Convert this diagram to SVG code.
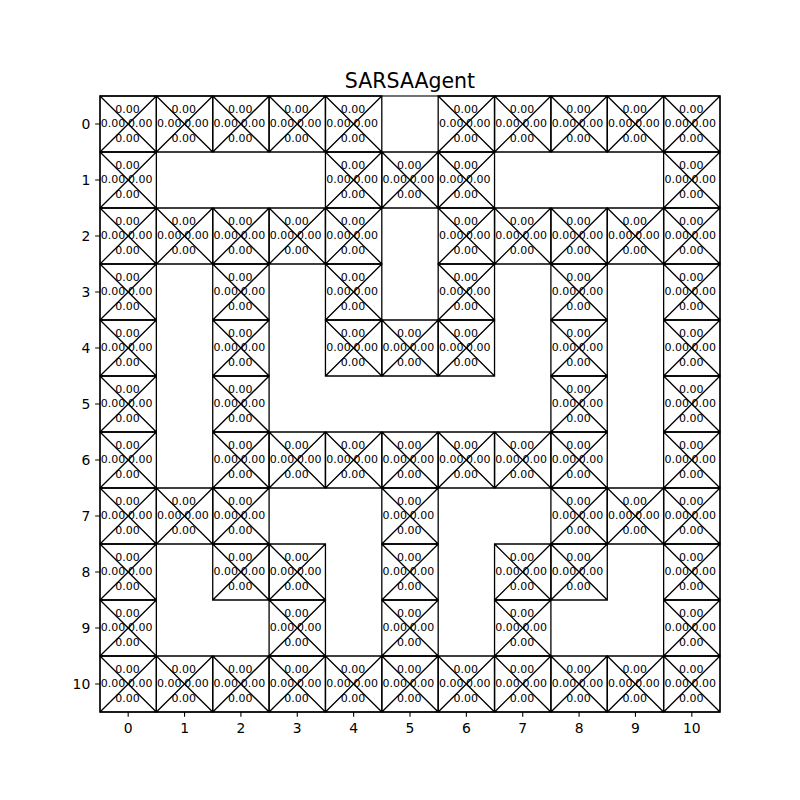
<svg xmlns="http://www.w3.org/2000/svg" xmlns:xlink="http://www.w3.org/1999/xlink" width="800" height="800" viewBox="0 0 800 800">
<style>
.cell path, .cell use{stroke:#000;stroke-width:1.3;fill:none}
.cell text{font-family:"DejaVu Sans","Liberation Sans",sans-serif;font-size:11px;text-anchor:middle;fill:#000}
.tick{stroke:#000;stroke-width:1.1;fill:none}
.tl{font-family:"DejaVu Sans","Liberation Sans",sans-serif;font-size:13.9px;fill:#000}
.title{font-family:"DejaVu Sans","Liberation Sans",sans-serif;font-size:20.5px;text-anchor:middle;fill:#000}
</style>
<defs>
<path id="x" d="M0 0H56.36V56H0ZM0 0L56.36 56M56.36 0L0 56"/>
</defs>
<rect width="800" height="800" fill="#fff"/>
<g id="cells" class="cell">
<g id="s0-0" transform="translate(100 96)"><use href="#x"/><text x="27.5" y="16.7">0.00</text><text x="13" y="31.2">0.00</text><text x="40.2" y="31.2">0.00</text><text x="27.5" y="45.5">0.00</text></g>
<g id="s0-1" transform="translate(156.36 96)"><use href="#x"/><text x="27.5" y="16.7">0.00</text><text x="13" y="31.2">0.00</text><text x="40.2" y="31.2">0.00</text><text x="27.5" y="45.5">0.00</text></g>
<g id="s0-2" transform="translate(212.73 96)"><use href="#x"/><text x="27.5" y="16.7">0.00</text><text x="13" y="31.2">0.00</text><text x="40.2" y="31.2">0.00</text><text x="27.5" y="45.5">0.00</text></g>
<g id="s0-3" transform="translate(269.09 96)"><use href="#x"/><text x="27.5" y="16.7">0.00</text><text x="13" y="31.2">0.00</text><text x="40.2" y="31.2">0.00</text><text x="27.5" y="45.5">0.00</text></g>
<g id="s0-4" transform="translate(325.45 96)"><use href="#x"/><text x="27.5" y="16.7">0.00</text><text x="13" y="31.2">0.00</text><text x="40.2" y="31.2">0.00</text><text x="27.5" y="45.5">0.00</text></g>
<g id="s0-6" transform="translate(438.18 96)"><use href="#x"/><text x="27.5" y="16.7">0.00</text><text x="13" y="31.2">0.00</text><text x="40.2" y="31.2">0.00</text><text x="27.5" y="45.5">0.00</text></g>
<g id="s0-7" transform="translate(494.55 96)"><use href="#x"/><text x="27.5" y="16.7">0.00</text><text x="13" y="31.2">0.00</text><text x="40.2" y="31.2">0.00</text><text x="27.5" y="45.5">0.00</text></g>
<g id="s0-8" transform="translate(550.91 96)"><use href="#x"/><text x="27.5" y="16.7">0.00</text><text x="13" y="31.2">0.00</text><text x="40.2" y="31.2">0.00</text><text x="27.5" y="45.5">0.00</text></g>
<g id="s0-9" transform="translate(607.27 96)"><use href="#x"/><text x="27.5" y="16.7">0.00</text><text x="13" y="31.2">0.00</text><text x="40.2" y="31.2">0.00</text><text x="27.5" y="45.5">0.00</text></g>
<g id="s0-10" transform="translate(663.64 96)"><use href="#x"/><text x="27.5" y="16.7">0.00</text><text x="13" y="31.2">0.00</text><text x="40.2" y="31.2">0.00</text><text x="27.5" y="45.5">0.00</text></g>

<g id="s1-0" transform="translate(100 152)"><use href="#x"/><text x="27.5" y="16.7">0.00</text><text x="13" y="31.2">0.00</text><text x="40.2" y="31.2">0.00</text><text x="27.5" y="45.5">0.00</text></g>
<g id="s1-4" transform="translate(325.45 152)"><use href="#x"/><text x="27.5" y="16.7">0.00</text><text x="13" y="31.2">0.00</text><text x="40.2" y="31.2">0.00</text><text x="27.5" y="45.5">0.00</text></g>
<g id="s1-5" transform="translate(381.82 152)"><use href="#x"/><text x="27.5" y="16.7">0.00</text><text x="13" y="31.2">0.00</text><text x="40.2" y="31.2">0.00</text><text x="27.5" y="45.5">0.00</text></g>
<g id="s1-6" transform="translate(438.18 152)"><use href="#x"/><text x="27.5" y="16.7">0.00</text><text x="13" y="31.2">0.00</text><text x="40.2" y="31.2">0.00</text><text x="27.5" y="45.5">0.00</text></g>
<g id="s1-10" transform="translate(663.64 152)"><use href="#x"/><text x="27.5" y="16.7">0.00</text><text x="13" y="31.2">0.00</text><text x="40.2" y="31.2">0.00</text><text x="27.5" y="45.5">0.00</text></g>

<g id="s2-0" transform="translate(100 208)"><use href="#x"/><text x="27.5" y="16.7">0.00</text><text x="13" y="31.2">0.00</text><text x="40.2" y="31.2">0.00</text><text x="27.5" y="45.5">0.00</text></g>
<g id="s2-1" transform="translate(156.36 208)"><use href="#x"/><text x="27.5" y="16.7">0.00</text><text x="13" y="31.2">0.00</text><text x="40.2" y="31.2">0.00</text><text x="27.5" y="45.5">0.00</text></g>
<g id="s2-2" transform="translate(212.73 208)"><use href="#x"/><text x="27.5" y="16.7">0.00</text><text x="13" y="31.2">0.00</text><text x="40.2" y="31.2">0.00</text><text x="27.5" y="45.5">0.00</text></g>
<g id="s2-3" transform="translate(269.09 208)"><use href="#x"/><text x="27.5" y="16.7">0.00</text><text x="13" y="31.2">0.00</text><text x="40.2" y="31.2">0.00</text><text x="27.5" y="45.5">0.00</text></g>
<g id="s2-4" transform="translate(325.45 208)"><use href="#x"/><text x="27.5" y="16.7">0.00</text><text x="13" y="31.2">0.00</text><text x="40.2" y="31.2">0.00</text><text x="27.5" y="45.5">0.00</text></g>
<g id="s2-6" transform="translate(438.18 208)"><use href="#x"/><text x="27.5" y="16.7">0.00</text><text x="13" y="31.2">0.00</text><text x="40.2" y="31.2">0.00</text><text x="27.5" y="45.5">0.00</text></g>
<g id="s2-7" transform="translate(494.55 208)"><use href="#x"/><text x="27.5" y="16.7">0.00</text><text x="13" y="31.2">0.00</text><text x="40.2" y="31.2">0.00</text><text x="27.5" y="45.5">0.00</text></g>
<g id="s2-8" transform="translate(550.91 208)"><use href="#x"/><text x="27.5" y="16.7">0.00</text><text x="13" y="31.2">0.00</text><text x="40.2" y="31.2">0.00</text><text x="27.5" y="45.5">0.00</text></g>
<g id="s2-9" transform="translate(607.27 208)"><use href="#x"/><text x="27.5" y="16.7">0.00</text><text x="13" y="31.2">0.00</text><text x="40.2" y="31.2">0.00</text><text x="27.5" y="45.5">0.00</text></g>
<g id="s2-10" transform="translate(663.64 208)"><use href="#x"/><text x="27.5" y="16.7">0.00</text><text x="13" y="31.2">0.00</text><text x="40.2" y="31.2">0.00</text><text x="27.5" y="45.5">0.00</text></g>

<g id="s3-0" transform="translate(100 264)"><use href="#x"/><text x="27.5" y="16.7">0.00</text><text x="13" y="31.2">0.00</text><text x="40.2" y="31.2">0.00</text><text x="27.5" y="45.5">0.00</text></g>
<g id="s3-2" transform="translate(212.73 264)"><use href="#x"/><text x="27.5" y="16.7">0.00</text><text x="13" y="31.2">0.00</text><text x="40.2" y="31.2">0.00</text><text x="27.5" y="45.5">0.00</text></g>
<g id="s3-4" transform="translate(325.45 264)"><use href="#x"/><text x="27.5" y="16.7">0.00</text><text x="13" y="31.2">0.00</text><text x="40.2" y="31.2">0.00</text><text x="27.5" y="45.5">0.00</text></g>
<g id="s3-6" transform="translate(438.18 264)"><use href="#x"/><text x="27.5" y="16.7">0.00</text><text x="13" y="31.2">0.00</text><text x="40.2" y="31.2">0.00</text><text x="27.5" y="45.5">0.00</text></g>
<g id="s3-8" transform="translate(550.91 264)"><use href="#x"/><text x="27.5" y="16.7">0.00</text><text x="13" y="31.2">0.00</text><text x="40.2" y="31.2">0.00</text><text x="27.5" y="45.5">0.00</text></g>
<g id="s3-10" transform="translate(663.64 264)"><use href="#x"/><text x="27.5" y="16.7">0.00</text><text x="13" y="31.2">0.00</text><text x="40.2" y="31.2">0.00</text><text x="27.5" y="45.5">0.00</text></g>

<g id="s4-0" transform="translate(100 320)"><use href="#x"/><text x="27.5" y="16.7">0.00</text><text x="13" y="31.2">0.00</text><text x="40.2" y="31.2">0.00</text><text x="27.5" y="45.5">0.00</text></g>
<g id="s4-2" transform="translate(212.73 320)"><use href="#x"/><text x="27.5" y="16.7">0.00</text><text x="13" y="31.2">0.00</text><text x="40.2" y="31.2">0.00</text><text x="27.5" y="45.5">0.00</text></g>
<g id="s4-4" transform="translate(325.45 320)"><use href="#x"/><text x="27.5" y="16.7">0.00</text><text x="13" y="31.2">0.00</text><text x="40.2" y="31.2">0.00</text><text x="27.5" y="45.5">0.00</text></g>
<g id="s4-5" transform="translate(381.82 320)"><use href="#x"/><text x="27.5" y="16.7">0.00</text><text x="13" y="31.2">0.00</text><text x="40.2" y="31.2">0.00</text><text x="27.5" y="45.5">0.00</text></g>
<g id="s4-6" transform="translate(438.18 320)"><use href="#x"/><text x="27.5" y="16.7">0.00</text><text x="13" y="31.2">0.00</text><text x="40.2" y="31.2">0.00</text><text x="27.5" y="45.5">0.00</text></g>
<g id="s4-8" transform="translate(550.91 320)"><use href="#x"/><text x="27.5" y="16.7">0.00</text><text x="13" y="31.2">0.00</text><text x="40.2" y="31.2">0.00</text><text x="27.5" y="45.5">0.00</text></g>
<g id="s4-10" transform="translate(663.64 320)"><use href="#x"/><text x="27.5" y="16.7">0.00</text><text x="13" y="31.2">0.00</text><text x="40.2" y="31.2">0.00</text><text x="27.5" y="45.5">0.00</text></g>

<g id="s5-0" transform="translate(100 376)"><use href="#x"/><text x="27.5" y="16.7">0.00</text><text x="13" y="31.2">0.00</text><text x="40.2" y="31.2">0.00</text><text x="27.5" y="45.5">0.00</text></g>
<g id="s5-2" transform="translate(212.73 376)"><use href="#x"/><text x="27.5" y="16.7">0.00</text><text x="13" y="31.2">0.00</text><text x="40.2" y="31.2">0.00</text><text x="27.5" y="45.5">0.00</text></g>
<g id="s5-8" transform="translate(550.91 376)"><use href="#x"/><text x="27.5" y="16.7">0.00</text><text x="13" y="31.2">0.00</text><text x="40.2" y="31.2">0.00</text><text x="27.5" y="45.5">0.00</text></g>
<g id="s5-10" transform="translate(663.64 376)"><use href="#x"/><text x="27.5" y="16.7">0.00</text><text x="13" y="31.2">0.00</text><text x="40.2" y="31.2">0.00</text><text x="27.5" y="45.5">0.00</text></g>

<g id="s6-0" transform="translate(100 432)"><use href="#x"/><text x="27.5" y="16.7">0.00</text><text x="13" y="31.2">0.00</text><text x="40.2" y="31.2">0.00</text><text x="27.5" y="45.5">0.00</text></g>
<g id="s6-2" transform="translate(212.73 432)"><use href="#x"/><text x="27.5" y="16.7">0.00</text><text x="13" y="31.2">0.00</text><text x="40.2" y="31.2">0.00</text><text x="27.5" y="45.5">0.00</text></g>
<g id="s6-3" transform="translate(269.09 432)"><use href="#x"/><text x="27.5" y="16.7">0.00</text><text x="13" y="31.2">0.00</text><text x="40.2" y="31.2">0.00</text><text x="27.5" y="45.5">0.00</text></g>
<g id="s6-4" transform="translate(325.45 432)"><use href="#x"/><text x="27.5" y="16.7">0.00</text><text x="13" y="31.2">0.00</text><text x="40.2" y="31.2">0.00</text><text x="27.5" y="45.5">0.00</text></g>
<g id="s6-5" transform="translate(381.82 432)"><use href="#x"/><text x="27.5" y="16.7">0.00</text><text x="13" y="31.2">0.00</text><text x="40.2" y="31.2">0.00</text><text x="27.5" y="45.5">0.00</text></g>
<g id="s6-6" transform="translate(438.18 432)"><use href="#x"/><text x="27.5" y="16.7">0.00</text><text x="13" y="31.2">0.00</text><text x="40.2" y="31.2">0.00</text><text x="27.5" y="45.5">0.00</text></g>
<g id="s6-7" transform="translate(494.55 432)"><use href="#x"/><text x="27.5" y="16.7">0.00</text><text x="13" y="31.2">0.00</text><text x="40.2" y="31.2">0.00</text><text x="27.5" y="45.5">0.00</text></g>
<g id="s6-8" transform="translate(550.91 432)"><use href="#x"/><text x="27.5" y="16.7">0.00</text><text x="13" y="31.2">0.00</text><text x="40.2" y="31.2">0.00</text><text x="27.5" y="45.5">0.00</text></g>
<g id="s6-10" transform="translate(663.64 432)"><use href="#x"/><text x="27.5" y="16.7">0.00</text><text x="13" y="31.2">0.00</text><text x="40.2" y="31.2">0.00</text><text x="27.5" y="45.5">0.00</text></g>

<g id="s7-0" transform="translate(100 488)"><use href="#x"/><text x="27.5" y="16.7">0.00</text><text x="13" y="31.2">0.00</text><text x="40.2" y="31.2">0.00</text><text x="27.5" y="45.5">0.00</text></g>
<g id="s7-1" transform="translate(156.36 488)"><use href="#x"/><text x="27.5" y="16.7">0.00</text><text x="13" y="31.2">0.00</text><text x="40.2" y="31.2">0.00</text><text x="27.5" y="45.5">0.00</text></g>
<g id="s7-2" transform="translate(212.73 488)"><use href="#x"/><text x="27.5" y="16.7">0.00</text><text x="13" y="31.2">0.00</text><text x="40.2" y="31.2">0.00</text><text x="27.5" y="45.5">0.00</text></g>
<g id="s7-5" transform="translate(381.82 488)"><use href="#x"/><text x="27.5" y="16.7">0.00</text><text x="13" y="31.2">0.00</text><text x="40.2" y="31.2">0.00</text><text x="27.5" y="45.5">0.00</text></g>
<g id="s7-8" transform="translate(550.91 488)"><use href="#x"/><text x="27.5" y="16.7">0.00</text><text x="13" y="31.2">0.00</text><text x="40.2" y="31.2">0.00</text><text x="27.5" y="45.5">0.00</text></g>
<g id="s7-9" transform="translate(607.27 488)"><use href="#x"/><text x="27.5" y="16.7">0.00</text><text x="13" y="31.2">0.00</text><text x="40.2" y="31.2">0.00</text><text x="27.5" y="45.5">0.00</text></g>
<g id="s7-10" transform="translate(663.64 488)"><use href="#x"/><text x="27.5" y="16.7">0.00</text><text x="13" y="31.2">0.00</text><text x="40.2" y="31.2">0.00</text><text x="27.5" y="45.5">0.00</text></g>

<g id="s8-0" transform="translate(100 544)"><use href="#x"/><text x="27.5" y="16.7">0.00</text><text x="13" y="31.2">0.00</text><text x="40.2" y="31.2">0.00</text><text x="27.5" y="45.5">0.00</text></g>
<g id="s8-2" transform="translate(212.73 544)"><use href="#x"/><text x="27.5" y="16.7">0.00</text><text x="13" y="31.2">0.00</text><text x="40.2" y="31.2">0.00</text><text x="27.5" y="45.5">0.00</text></g>
<g id="s8-3" transform="translate(269.09 544)"><use href="#x"/><text x="27.5" y="16.7">0.00</text><text x="13" y="31.2">0.00</text><text x="40.2" y="31.2">0.00</text><text x="27.5" y="45.5">0.00</text></g>
<g id="s8-5" transform="translate(381.82 544)"><use href="#x"/><text x="27.5" y="16.7">0.00</text><text x="13" y="31.2">0.00</text><text x="40.2" y="31.2">0.00</text><text x="27.5" y="45.5">0.00</text></g>
<g id="s8-7" transform="translate(494.55 544)"><use href="#x"/><text x="27.5" y="16.7">0.00</text><text x="13" y="31.2">0.00</text><text x="40.2" y="31.2">0.00</text><text x="27.5" y="45.5">0.00</text></g>
<g id="s8-8" transform="translate(550.91 544)"><use href="#x"/><text x="27.5" y="16.7">0.00</text><text x="13" y="31.2">0.00</text><text x="40.2" y="31.2">0.00</text><text x="27.5" y="45.5">0.00</text></g>
<g id="s8-10" transform="translate(663.64 544)"><use href="#x"/><text x="27.5" y="16.7">0.00</text><text x="13" y="31.2">0.00</text><text x="40.2" y="31.2">0.00</text><text x="27.5" y="45.5">0.00</text></g>

<g id="s9-0" transform="translate(100 600)"><use href="#x"/><text x="27.5" y="16.7">0.00</text><text x="13" y="31.2">0.00</text><text x="40.2" y="31.2">0.00</text><text x="27.5" y="45.5">0.00</text></g>
<g id="s9-3" transform="translate(269.09 600)"><use href="#x"/><text x="27.5" y="16.7">0.00</text><text x="13" y="31.2">0.00</text><text x="40.2" y="31.2">0.00</text><text x="27.5" y="45.5">0.00</text></g>
<g id="s9-5" transform="translate(381.82 600)"><use href="#x"/><text x="27.5" y="16.7">0.00</text><text x="13" y="31.2">0.00</text><text x="40.2" y="31.2">0.00</text><text x="27.5" y="45.5">0.00</text></g>
<g id="s9-7" transform="translate(494.55 600)"><use href="#x"/><text x="27.5" y="16.7">0.00</text><text x="13" y="31.2">0.00</text><text x="40.2" y="31.2">0.00</text><text x="27.5" y="45.5">0.00</text></g>
<g id="s9-10" transform="translate(663.64 600)"><use href="#x"/><text x="27.5" y="16.7">0.00</text><text x="13" y="31.2">0.00</text><text x="40.2" y="31.2">0.00</text><text x="27.5" y="45.5">0.00</text></g>

<g id="s10-0" transform="translate(100 656)"><use href="#x"/><text x="27.5" y="16.7">0.00</text><text x="13" y="31.2">0.00</text><text x="40.2" y="31.2">0.00</text><text x="27.5" y="45.5">0.00</text></g>
<g id="s10-1" transform="translate(156.36 656)"><use href="#x"/><text x="27.5" y="16.7">0.00</text><text x="13" y="31.2">0.00</text><text x="40.2" y="31.2">0.00</text><text x="27.5" y="45.5">0.00</text></g>
<g id="s10-2" transform="translate(212.73 656)"><use href="#x"/><text x="27.5" y="16.7">0.00</text><text x="13" y="31.2">0.00</text><text x="40.2" y="31.2">0.00</text><text x="27.5" y="45.5">0.00</text></g>
<g id="s10-3" transform="translate(269.09 656)"><use href="#x"/><text x="27.5" y="16.7">0.00</text><text x="13" y="31.2">0.00</text><text x="40.2" y="31.2">0.00</text><text x="27.5" y="45.5">0.00</text></g>
<g id="s10-4" transform="translate(325.45 656)"><use href="#x"/><text x="27.5" y="16.7">0.00</text><text x="13" y="31.2">0.00</text><text x="40.2" y="31.2">0.00</text><text x="27.5" y="45.5">0.00</text></g>
<g id="s10-5" transform="translate(381.82 656)"><use href="#x"/><text x="27.5" y="16.7">0.00</text><text x="13" y="31.2">0.00</text><text x="40.2" y="31.2">0.00</text><text x="27.5" y="45.5">0.00</text></g>
<g id="s10-6" transform="translate(438.18 656)"><use href="#x"/><text x="27.5" y="16.7">0.00</text><text x="13" y="31.2">0.00</text><text x="40.2" y="31.2">0.00</text><text x="27.5" y="45.5">0.00</text></g>
<g id="s10-7" transform="translate(494.55 656)"><use href="#x"/><text x="27.5" y="16.7">0.00</text><text x="13" y="31.2">0.00</text><text x="40.2" y="31.2">0.00</text><text x="27.5" y="45.5">0.00</text></g>
<g id="s10-8" transform="translate(550.91 656)"><use href="#x"/><text x="27.5" y="16.7">0.00</text><text x="13" y="31.2">0.00</text><text x="40.2" y="31.2">0.00</text><text x="27.5" y="45.5">0.00</text></g>
<g id="s10-9" transform="translate(607.27 656)"><use href="#x"/><text x="27.5" y="16.7">0.00</text><text x="13" y="31.2">0.00</text><text x="40.2" y="31.2">0.00</text><text x="27.5" y="45.5">0.00</text></g>
<g id="s10-10" transform="translate(663.64 656)"><use href="#x"/><text x="27.5" y="16.7">0.00</text><text x="13" y="31.2">0.00</text><text x="40.2" y="31.2">0.00</text><text x="27.5" y="45.5">0.00</text></g>
</g>
<g id="connectors"></g>
<g id="axes">
<rect x="100" y="96" width="620" height="616" class="tick"/>
<path class="tick" d="M128.18 712v4.86M184.55 712v4.86M240.91 712v4.86M297.27 712v4.86M353.64 712v4.86M410 712v4.86M466.36 712v4.86M522.73 712v4.86M579.09 712v4.86M635.45 712v4.86M691.82 712v4.86"/>
<path class="tick" d="M100 124h-4.86M100 180h-4.86M100 236h-4.86M100 292h-4.86M100 348h-4.86M100 404h-4.86M100 460h-4.86M100 516h-4.86M100 572h-4.86M100 628h-4.86M100 684h-4.86"/>
<g class="tl" text-anchor="middle">
<text x="128.18" y="733.3">0</text><text x="184.55" y="733.3">1</text><text x="240.91" y="733.3">2</text><text x="297.27" y="733.3">3</text><text x="353.64" y="733.3">4</text><text x="410" y="733.3">5</text><text x="466.36" y="733.3">6</text><text x="522.73" y="733.3">7</text><text x="579.09" y="733.3">8</text><text x="635.45" y="733.3">9</text><text x="691.82" y="733.3">10</text>
</g>
<g class="tl" text-anchor="end">
<text x="90.3" y="129.3">0</text><text x="90.3" y="185.3">1</text><text x="90.3" y="241.3">2</text><text x="90.3" y="297.3">3</text><text x="90.3" y="353.3">4</text><text x="90.3" y="409.3">5</text><text x="90.3" y="465.3">6</text><text x="90.3" y="521.3">7</text><text x="90.3" y="577.3">8</text><text x="90.3" y="633.3">9</text><text x="90.3" y="689.3">10</text>
</g>
<text class="title" x="410" y="87.7">SARSAAgent</text>
</g>
</svg>
